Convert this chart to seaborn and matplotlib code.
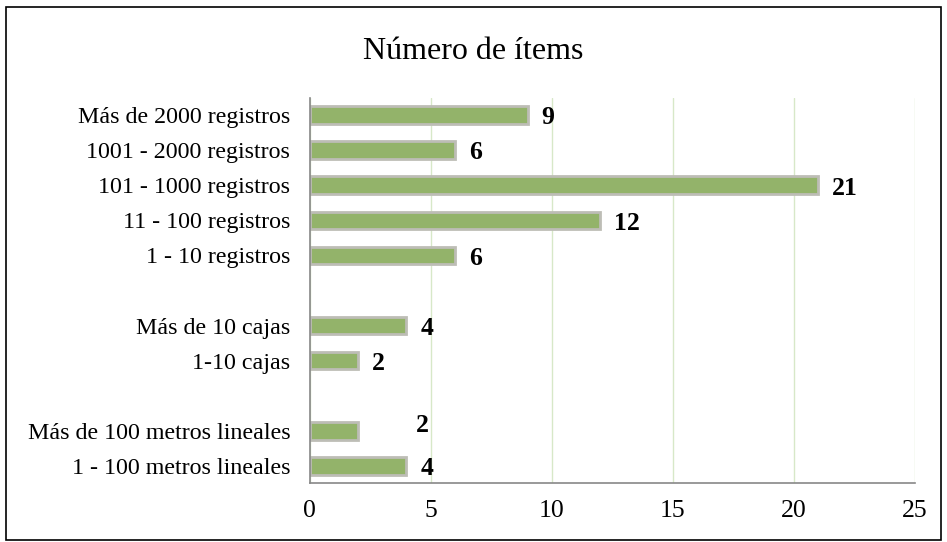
import matplotlib
matplotlib.use('Agg')
import matplotlib.pyplot as plt
from matplotlib.patches import Rectangle
import seaborn as sns
import pandas as pd

# categories top to bottom, blank entries are the gaps between groups
categories = ['Más de 2000 registros', '1001 - 2000 registros', '101 - 1000 registros',
              '11 - 100 registros', '1 - 10 registros', ' ',
              'Más de 10 cajas', '1-10 cajas', '  ',
              'Más de 100 metros lineales', '1 - 100 metros lineales']
values = [9, 6, 21, 12, 6, None, 4, 2, None, 2, 4]
x_ticks = [0, 5, 10, 15, 20, 25]
title = 'Número de ítems'

sns.set_style('white')
plt.rcParams['font.family'] = ['Liberation Serif', 'DejaVu Serif']
plt.rcParams['text.color'] = 'black'
plt.rcParams['xtick.color'] = 'black'
plt.rcParams['ytick.color'] = 'black'

df = pd.DataFrame({'cat': categories, 'val': values}).dropna()

fig = plt.figure(figsize=(9.47, 5.42), dpi=100)
ax = fig.add_axes([0.327, 0.108, 0.639, 0.712])

sns.barplot(data=df, x='val', y='cat', order=categories, color='#93B36A',
            saturation=1, width=0.5, edgecolor='#bdbdb6', linewidth=2, ax=ax)

ax.set_xlim(0, 25)
ax.set_ylim(len(categories) - 0.5, -0.5)
ax.set_xticks(x_ticks)
ax.set_xticklabels([str(t) for t in x_ticks], fontsize=18.5)
ax.tick_params(axis='x', length=5, width=1, color='#888888', direction='out', pad=7)
ax.tick_params(axis='y', which='major', length=0, labelsize=17.3, pad=14)
ax.set_yticks([i + 0.5 for i in range(-1, len(categories))], minor=True)
ax.tick_params(axis='y', which='minor', length=6, width=1, color='#888888', direction='out')
ax.set_xlabel('')
ax.set_ylabel('')
ax.xaxis.grid(True, color='#d7e8c8', linewidth=1)
ax.set_axisbelow(True)
for s in ['top', 'right']:
    ax.spines[s].set_visible(False)
for s in ['left', 'bottom']:
    ax.spines[s].set_color('#888888')
    ax.spines[s].set_linewidth(1.2)

# value labels
for i, (cat, v) in enumerate(zip(categories, values)):
    if v is None:
        continue
    if cat == 'Más de 100 metros lineales':
        # this one sits off to the right and a bit above its bar
        ax.annotate(str(v), xy=(v, i), xytext=(46, 4), textcoords='offset points',
                    ha='center', va='center', fontsize=18.5, fontweight='bold')
    else:
        ax.annotate(str(v), xy=(v, i), xytext=(10, -2), textcoords='offset points',
                    ha='left', va='center', fontsize=18.5, fontweight='bold')

fig.text(0.5, 0.905, title, ha='center', va='center', fontsize=23)

fig.patches.append(Rectangle((0.006, 0.004), 0.988, 0.983, transform=fig.transFigure,
                             fill=False, edgecolor='black', linewidth=1.2))

fig.savefig('out.png', dpi=100)
